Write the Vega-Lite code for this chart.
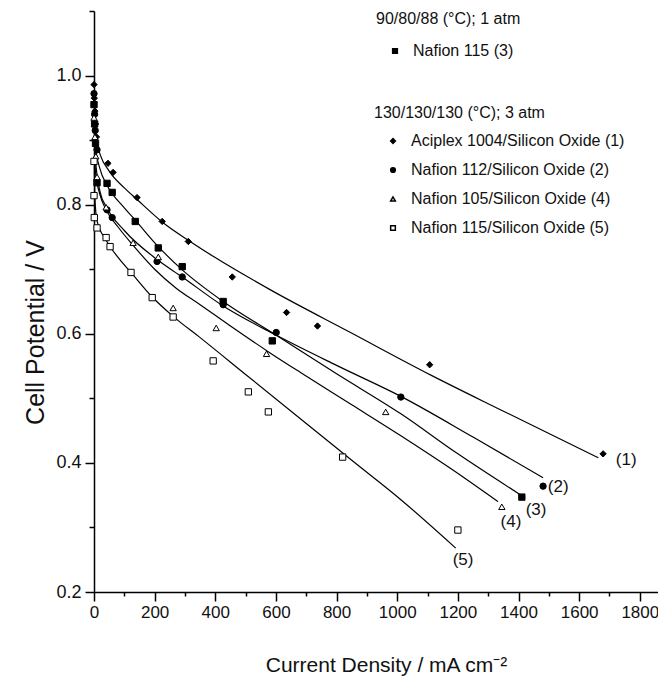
{
  "$schema": "https://vega.github.io/schema/vega-lite/v6.json",
  "width": 564,
  "height": 581,
  "autosize": {"type": "none"},
  "padding": {"left": 94, "top": 11, "right": 0, "bottom": 86},
  "background": "white",
  "config": {"view": {"stroke": null}, "font": "Liberation Sans"},
  "datasets": {
    "points": [
      {"s": "1", "group": "B", "series": "Aciplex 1004/Silicon Oxide (1)", "x": 0, "y": 0.986},
      {"s": "1", "group": "B", "series": "Aciplex 1004/Silicon Oxide (1)", "x": 1, "y": 0.965},
      {"s": "1", "group": "B", "series": "Aciplex 1004/Silicon Oxide (1)", "x": 3, "y": 0.945},
      {"s": "1", "group": "B", "series": "Aciplex 1004/Silicon Oxide (1)", "x": 5, "y": 0.925},
      {"s": "1", "group": "B", "series": "Aciplex 1004/Silicon Oxide (1)", "x": 8, "y": 0.905},
      {"s": "1", "group": "B", "series": "Aciplex 1004/Silicon Oxide (1)", "x": 46, "y": 0.864},
      {"s": "1", "group": "B", "series": "Aciplex 1004/Silicon Oxide (1)", "x": 63, "y": 0.850},
      {"s": "1", "group": "B", "series": "Aciplex 1004/Silicon Oxide (1)", "x": 142, "y": 0.811},
      {"s": "1", "group": "B", "series": "Aciplex 1004/Silicon Oxide (1)", "x": 225, "y": 0.774},
      {"s": "1", "group": "B", "series": "Aciplex 1004/Silicon Oxide (1)", "x": 311, "y": 0.743},
      {"s": "1", "group": "B", "series": "Aciplex 1004/Silicon Oxide (1)", "x": 456, "y": 0.688},
      {"s": "1", "group": "B", "series": "Aciplex 1004/Silicon Oxide (1)", "x": 635, "y": 0.633},
      {"s": "1", "group": "B", "series": "Aciplex 1004/Silicon Oxide (1)", "x": 737, "y": 0.612},
      {"s": "1", "group": "B", "series": "Aciplex 1004/Silicon Oxide (1)", "x": 1107, "y": 0.552},
      {"s": "1", "group": "B", "series": "Aciplex 1004/Silicon Oxide (1)", "x": 1679, "y": 0.414},
      {"s": "2", "group": "B", "series": "Nafion 112/Silicon Oxide (2)", "x": 0, "y": 0.972},
      {"s": "2", "group": "B", "series": "Nafion 112/Silicon Oxide (2)", "x": 2, "y": 0.940},
      {"s": "2", "group": "B", "series": "Nafion 112/Silicon Oxide (2)", "x": 4, "y": 0.915},
      {"s": "2", "group": "B", "series": "Nafion 112/Silicon Oxide (2)", "x": 10, "y": 0.885},
      {"s": "2", "group": "B", "series": "Nafion 112/Silicon Oxide (2)", "x": 43, "y": 0.792},
      {"s": "2", "group": "B", "series": "Nafion 112/Silicon Oxide (2)", "x": 60, "y": 0.780},
      {"s": "2", "group": "B", "series": "Nafion 112/Silicon Oxide (2)", "x": 208, "y": 0.712},
      {"s": "2", "group": "B", "series": "Nafion 112/Silicon Oxide (2)", "x": 291, "y": 0.688},
      {"s": "2", "group": "B", "series": "Nafion 112/Silicon Oxide (2)", "x": 426, "y": 0.645},
      {"s": "2", "group": "B", "series": "Nafion 112/Silicon Oxide (2)", "x": 601, "y": 0.602},
      {"s": "2", "group": "B", "series": "Nafion 112/Silicon Oxide (2)", "x": 1012, "y": 0.502},
      {"s": "2", "group": "B", "series": "Nafion 112/Silicon Oxide (2)", "x": 1481, "y": 0.364},
      {"s": "3", "group": "A", "series": "Nafion 115 (3)", "x": 0, "y": 0.955},
      {"s": "3", "group": "A", "series": "Nafion 115 (3)", "x": 2, "y": 0.925},
      {"s": "3", "group": "A", "series": "Nafion 115 (3)", "x": 5, "y": 0.895},
      {"s": "3", "group": "A", "series": "Nafion 115 (3)", "x": 10, "y": 0.834},
      {"s": "3", "group": "A", "series": "Nafion 115 (3)", "x": 43, "y": 0.833},
      {"s": "3", "group": "A", "series": "Nafion 115 (3)", "x": 60, "y": 0.819},
      {"s": "3", "group": "A", "series": "Nafion 115 (3)", "x": 136, "y": 0.774},
      {"s": "3", "group": "A", "series": "Nafion 115 (3)", "x": 212, "y": 0.733},
      {"s": "3", "group": "A", "series": "Nafion 115 (3)", "x": 291, "y": 0.704},
      {"s": "3", "group": "A", "series": "Nafion 115 (3)", "x": 426, "y": 0.650},
      {"s": "3", "group": "A", "series": "Nafion 115 (3)", "x": 588, "y": 0.589},
      {"s": "3", "group": "A", "series": "Nafion 115 (3)", "x": 1411, "y": 0.347},
      {"s": "4", "group": "B", "series": "Nafion 105/Silicon Oxide (4)", "x": 0, "y": 0.935},
      {"s": "4", "group": "B", "series": "Nafion 105/Silicon Oxide (4)", "x": 3, "y": 0.905},
      {"s": "4", "group": "B", "series": "Nafion 105/Silicon Oxide (4)", "x": 6, "y": 0.875},
      {"s": "4", "group": "B", "series": "Nafion 105/Silicon Oxide (4)", "x": 10, "y": 0.843},
      {"s": "4", "group": "B", "series": "Nafion 105/Silicon Oxide (4)", "x": 40, "y": 0.796},
      {"s": "4", "group": "B", "series": "Nafion 105/Silicon Oxide (4)", "x": 129, "y": 0.741},
      {"s": "4", "group": "B", "series": "Nafion 105/Silicon Oxide (4)", "x": 212, "y": 0.719},
      {"s": "4", "group": "B", "series": "Nafion 105/Silicon Oxide (4)", "x": 261, "y": 0.640},
      {"s": "4", "group": "B", "series": "Nafion 105/Silicon Oxide (4)", "x": 403, "y": 0.609},
      {"s": "4", "group": "B", "series": "Nafion 105/Silicon Oxide (4)", "x": 569, "y": 0.569},
      {"s": "4", "group": "B", "series": "Nafion 105/Silicon Oxide (4)", "x": 962, "y": 0.479},
      {"s": "4", "group": "B", "series": "Nafion 105/Silicon Oxide (4)", "x": 1345, "y": 0.332},
      {"s": "5", "group": "B", "series": "Nafion 115/Silicon Oxide (5)", "x": 0, "y": 0.867},
      {"s": "5", "group": "B", "series": "Nafion 115/Silicon Oxide (5)", "x": 0, "y": 0.814},
      {"s": "5", "group": "B", "series": "Nafion 115/Silicon Oxide (5)", "x": 1, "y": 0.780},
      {"s": "5", "group": "B", "series": "Nafion 115/Silicon Oxide (5)", "x": 10, "y": 0.764},
      {"s": "5", "group": "B", "series": "Nafion 115/Silicon Oxide (5)", "x": 40, "y": 0.749},
      {"s": "5", "group": "B", "series": "Nafion 115/Silicon Oxide (5)", "x": 53, "y": 0.735},
      {"s": "5", "group": "B", "series": "Nafion 115/Silicon Oxide (5)", "x": 122, "y": 0.695},
      {"s": "5", "group": "B", "series": "Nafion 115/Silicon Oxide (5)", "x": 192, "y": 0.656},
      {"s": "5", "group": "B", "series": "Nafion 115/Silicon Oxide (5)", "x": 261, "y": 0.626},
      {"s": "5", "group": "B", "series": "Nafion 115/Silicon Oxide (5)", "x": 393, "y": 0.558},
      {"s": "5", "group": "B", "series": "Nafion 115/Silicon Oxide (5)", "x": 509, "y": 0.510},
      {"s": "5", "group": "B", "series": "Nafion 115/Silicon Oxide (5)", "x": 575, "y": 0.479},
      {"s": "5", "group": "B", "series": "Nafion 115/Silicon Oxide (5)", "x": 820, "y": 0.409},
      {"s": "5", "group": "B", "series": "Nafion 115/Silicon Oxide (5)", "x": 1200, "y": 0.296}
    ],
    "fits": [
      {"s": "1", "x": 1, "y": 0.93}, {"s": "1", "x": 5, "y": 0.905}, {"s": "1", "x": 20, "y": 0.878},
      {"s": "1", "x": 50, "y": 0.852}, {"s": "1", "x": 100, "y": 0.826}, {"s": "1", "x": 142, "y": 0.808},
      {"s": "1", "x": 228, "y": 0.772}, {"s": "1", "x": 317, "y": 0.743}, {"s": "1", "x": 393, "y": 0.720},
      {"s": "1", "x": 582, "y": 0.668}, {"s": "1", "x": 846, "y": 0.602}, {"s": "1", "x": 1111, "y": 0.536},
      {"s": "1", "x": 1342, "y": 0.482}, {"s": "1", "x": 1663, "y": 0.408},
      {"s": "2", "x": 1, "y": 0.92}, {"s": "2", "x": 5, "y": 0.87}, {"s": "2", "x": 20, "y": 0.82},
      {"s": "2", "x": 43, "y": 0.795}, {"s": "2", "x": 100, "y": 0.760}, {"s": "2", "x": 208, "y": 0.715},
      {"s": "2", "x": 291, "y": 0.688}, {"s": "2", "x": 426, "y": 0.643}, {"s": "2", "x": 600, "y": 0.598},
      {"s": "2", "x": 800, "y": 0.551}, {"s": "2", "x": 1012, "y": 0.503}, {"s": "2", "x": 1250, "y": 0.440},
      {"s": "2", "x": 1481, "y": 0.377},
      {"s": "3", "x": 1, "y": 0.92}, {"s": "3", "x": 5, "y": 0.89}, {"s": "3", "x": 20, "y": 0.855},
      {"s": "3", "x": 43, "y": 0.830}, {"s": "3", "x": 100, "y": 0.795}, {"s": "3", "x": 136, "y": 0.776},
      {"s": "3", "x": 212, "y": 0.735}, {"s": "3", "x": 291, "y": 0.699}, {"s": "3", "x": 426, "y": 0.650},
      {"s": "3", "x": 600, "y": 0.598}, {"s": "3", "x": 800, "y": 0.538}, {"s": "3", "x": 1012, "y": 0.476},
      {"s": "3", "x": 1200, "y": 0.414}, {"s": "3", "x": 1408, "y": 0.350},
      {"s": "4", "x": 1, "y": 0.90}, {"s": "4", "x": 5, "y": 0.85}, {"s": "4", "x": 20, "y": 0.815},
      {"s": "4", "x": 40, "y": 0.792}, {"s": "4", "x": 80, "y": 0.765}, {"s": "4", "x": 129, "y": 0.737},
      {"s": "4", "x": 200, "y": 0.700}, {"s": "4", "x": 270, "y": 0.671}, {"s": "4", "x": 350, "y": 0.645},
      {"s": "4", "x": 450, "y": 0.612}, {"s": "4", "x": 582, "y": 0.570}, {"s": "4", "x": 681, "y": 0.540},
      {"s": "4", "x": 850, "y": 0.490}, {"s": "4", "x": 1012, "y": 0.442}, {"s": "4", "x": 1180, "y": 0.390},
      {"s": "4", "x": 1332, "y": 0.340},
      {"s": "5", "x": 1, "y": 0.86}, {"s": "5", "x": 3, "y": 0.81}, {"s": "5", "x": 10, "y": 0.775},
      {"s": "5", "x": 40, "y": 0.745}, {"s": "5", "x": 80, "y": 0.718}, {"s": "5", "x": 122, "y": 0.695},
      {"s": "5", "x": 192, "y": 0.657}, {"s": "5", "x": 261, "y": 0.627}, {"s": "5", "x": 350, "y": 0.594},
      {"s": "5", "x": 500, "y": 0.537}, {"s": "5", "x": 700, "y": 0.461}, {"s": "5", "x": 850, "y": 0.404},
      {"s": "5", "x": 1012, "y": 0.343}, {"s": "5", "x": 1193, "y": 0.268}
    ],
    "labels": [
      {"x": 1755, "y": 0.405, "t": "(1)"},
      {"x": 1531, "y": 0.363, "t": "(2)"},
      {"x": 1458, "y": 0.327, "t": "(3)"},
      {"x": 1375, "y": 0.309, "t": "(4)"},
      {"x": 1217, "y": 0.250, "t": "(5)"}
    ]
  },
  "encoding": {
    "x": {
      "field": "x", "type": "quantitative",
      "scale": {"domain": [0, 1860], "nice": false, "zero": false},
      "axis": {
        "values": [0, 100, 200, 300, 400, 500, 600, 700, 800, 900, 1000, 1100, 1200, 1300, 1400, 1500, 1600, 1700, 1800],
        "format": "d",
        "labelExpr": "datum.value % 200 == 0 ? datum.label : ''",
        "tickSize": {"condition": {"test": "datum.value % 200 == 0", "value": 9}, "value": 4},
        "grid": false, "domainColor": "black", "domainWidth": 1.5, "tickColor": "black", "tickWidth": 1.5,
        "labelColor": "#111", "labelFont": "Liberation Sans", "labelFontSize": 17, "labelPadding": 3,
        "labelFlush": false, "labelOverlap": false,
        "title": "Current Density / mA cm⁻²", "titleFont": "Liberation Sans", "titleFontSize": 21,
        "titleFontWeight": "normal", "titleColor": "#111", "titleX": 292, "titleY": 73, "titleBaseline": "middle"
      }
    },
    "y": {
      "field": "y", "type": "quantitative",
      "scale": {"domain": [0.2, 1.1], "nice": false, "zero": false},
      "axis": {
        "values": [0.2, 0.3, 0.4, 0.5, 0.6, 0.7, 0.8, 0.9, 1.0, 1.1],
        "labelExpr": "(round(datum.value*10) % 2 == 0 && datum.value < 1.05) ? format(datum.value, '.1f') : ''",
        "tickSize": {"condition": {"test": "round(datum.value*10) % 2 == 0 && datum.value < 1.05", "value": 9}, "value": 5},
        "grid": false, "domainColor": "black", "domainWidth": 1.5, "tickColor": "black", "tickWidth": 1.5,
        "labelColor": "#111", "labelFont": "Liberation Sans", "labelFontSize": 18, "labelPadding": 4,
        "labelFlush": false, "labelOverlap": false,
        "title": "Cell Potential / V", "titleFont": "Liberation Sans", "titleFontSize": 25,
        "titleFontWeight": "normal", "titleColor": "#111", "titleX": -59, "titleY": 321, "titleBaseline": "middle"
      }
    }
  },
  "layer": [
    {
      "data": {"name": "fits"},
      "mark": {"type": "line", "interpolate": "monotone", "color": "black", "strokeWidth": 1.2},
      "encoding": {"detail": {"field": "s"}}
    },
    {
      "data": {"name": "points"},
      "transform": [{"filter": "datum.group == 'A'"}],
      "mark": {"type": "point", "filled": true, "stroke": "black", "strokeWidth": 1, "size": 40, "opacity": 1},
      "encoding": {
        "shape": {
          "field": "series", "type": "nominal",
          "scale": {"domain": ["Nafion 115 (3)"], "range": ["square"]},
          "legend": {
            "title": "90/80/88 (°C); 1 atm", "orient": "none", "legendX": 282, "legendY": 0,
            "titleFont": "Liberation Sans", "titleFontSize": 16, "titleFontWeight": "normal", "titleColor": "#111",
            "titlePadding": 16, "labelFont": "Liberation Sans", "labelFontSize": 16, "labelColor": "#111", "labelLimit": 300,
            "symbolSize": 22, "symbolOffset": 11, "labelOffset": 10, "rowPadding": 13,
            "encode": {"symbols": {"update": {"stroke": {"value": "black"}, "strokeWidth": {"value": 1}}}}
          }
        },
        "fill": {
          "field": "series", "type": "nominal",
          "scale": {"domain": ["Nafion 115 (3)"], "range": ["black"]},
          "legend": {
            "title": "90/80/88 (°C); 1 atm", "orient": "none", "legendX": 282, "legendY": 0,
            "titleFont": "Liberation Sans", "titleFontSize": 16, "titleFontWeight": "normal", "titleColor": "#111",
            "titlePadding": 16, "labelFont": "Liberation Sans", "labelFontSize": 16, "labelColor": "#111", "labelLimit": 300,
            "symbolSize": 22, "symbolOffset": 11, "labelOffset": 10, "rowPadding": 13,
            "encode": {"symbols": {"update": {"stroke": {"value": "black"}, "strokeWidth": {"value": 1}}}}
          }
        }
      }
    },
    {
      "data": {"name": "points"},
      "transform": [{"filter": "datum.group == 'B'"}],
      "mark": {"type": "point", "filled": true, "stroke": "black", "strokeWidth": 1, "size": 40, "opacity": 1},
      "encoding": {
        "shape": {
          "field": "series", "type": "nominal",
          "scale": {
            "domain": ["Aciplex 1004/Silicon Oxide (1)", "Nafion 112/Silicon Oxide (2)", "Nafion 105/Silicon Oxide (4)", "Nafion 115/Silicon Oxide (5)"],
            "range": ["diamond", "circle", "triangle-up", "square"]
          },
          "legend": {
            "title": "130/130/130 (°C); 3 atm", "orient": "none", "legendX": 280, "legendY": 94,
            "titleFont": "Liberation Sans", "titleFontSize": 16, "titleFontWeight": "normal", "titleColor": "#111",
            "titlePadding": 12, "labelFont": "Liberation Sans", "labelFontSize": 16, "labelColor": "#111", "labelLimit": 300,
            "symbolSize": 22, "symbolOffset": 11, "labelOffset": 10, "rowPadding": 13,
            "encode": {"symbols": {"update": {"stroke": {"value": "black"}, "strokeWidth": {"value": 1}}}}
          }
        },
        "fill": {
          "field": "series", "type": "nominal",
          "scale": {
            "domain": ["Aciplex 1004/Silicon Oxide (1)", "Nafion 112/Silicon Oxide (2)", "Nafion 105/Silicon Oxide (4)", "Nafion 115/Silicon Oxide (5)"],
            "range": ["black", "black", "white", "white"]
          },
          "legend": {
            "title": "130/130/130 (°C); 3 atm", "orient": "none", "legendX": 280, "legendY": 94,
            "titleFont": "Liberation Sans", "titleFontSize": 16, "titleFontWeight": "normal", "titleColor": "#111",
            "titlePadding": 12, "labelFont": "Liberation Sans", "labelFontSize": 16, "labelColor": "#111", "labelLimit": 300,
            "symbolSize": 22, "symbolOffset": 11, "labelOffset": 10, "rowPadding": 13,
            "encode": {"symbols": {"update": {"stroke": {"value": "black"}, "strokeWidth": {"value": 1}}}}
          }
        }
      }
    },
    {
      "data": {"name": "labels"},
      "mark": {"type": "text", "font": "Liberation Sans", "fontSize": 17, "color": "#111", "align": "center", "baseline": "middle"},
      "encoding": {"text": {"field": "t"}}
    }
  ],
  "resolve": {
    "scale": {"shape": "independent", "fill": "independent"},
    "legend": {"shape": "independent", "fill": "independent"}
  }
}
